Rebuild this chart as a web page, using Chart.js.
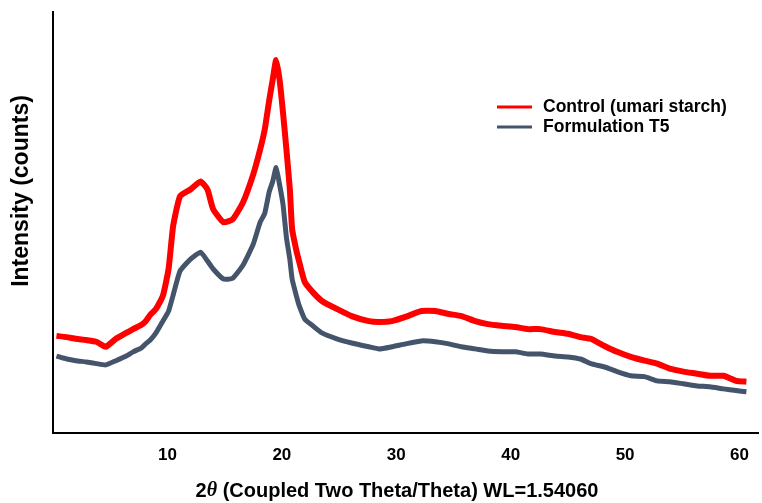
<!DOCTYPE html>
<html>
<head>
<meta charset="utf-8">
<script src="https://cdn.jsdelivr.net/npm/chart.js@4/dist/chart.umd.min.js"></script>
<style>
  body { margin: 0; background: #fff; }
</style>
</head>
<body>
<canvas id="xrd" width="762" height="503"></canvas>
<script>
// 2theta positions (degrees)
const twoTheta = [0.3, 1.2, 2.0, 2.9, 3.8, 4.6, 5.5, 6.4, 7.0, 7.7, 8.1, 8.5, 9.0, 9.6, 10.1, 10.5, 11.1, 12.0, 12.9, 13.5,
  14.0, 14.9, 15.7, 16.6, 17.5, 18.1, 18.5, 18.9, 19.2, 19.5, 19.8, 20.1, 20.4, 20.7, 20.9, 21.3, 21.5, 22.0, 22.7, 23.5,
  24.8, 26.1, 27.6, 28.5, 29.6, 30.8, 32.2, 33.4, 34.6, 35.7, 36.9, 38.0, 39.2, 40.4, 41.5, 42.6, 43.9, 45.0, 46.1, 47.0,
  48.2, 49.3, 50.5, 51.7, 52.8, 53.9, 55.1, 56.3, 57.4, 58.6, 59.7, 60.6];

// intensity, arbitrary units (no scale shown on the figure)
const controlCounts = [23.0, 22.7, 22.3, 22.0, 21.6, 20.4, 22.3, 23.7, 24.6, 25.6, 26.5, 28.0, 29.4, 32.5, 38.9, 49.1, 56.2, 57.8, 59.7, 57.8,
  53.1, 50.0, 50.7, 54.7, 61.4, 67.3, 72.0, 79.1, 83.9, 88.6, 83.9, 76.1, 67.3, 57.8, 48.3, 42.9, 40.8, 35.8, 33.4, 31.3,
  29.4, 27.7, 26.5, 26.3, 26.5, 27.5, 28.9, 28.9, 28.2, 27.7, 26.5, 25.8, 25.4, 25.1, 24.6, 24.6, 23.9, 23.5, 22.7, 22.3,
  20.6, 19.2, 18.0, 17.1, 16.4, 15.2, 14.5, 14.0, 13.5, 13.5, 12.3, 12.1];

const t5Counts = [18.2, 17.5, 17.1, 16.8, 16.4, 16.1, 17.1, 18.2, 19.2, 20.1, 21.1, 22.0, 23.7, 26.5, 28.9, 32.7, 38.4, 41.2, 42.9, 40.8,
  38.9, 36.5, 36.7, 39.8, 44.8, 50.0, 52.1, 57.3, 59.7, 63.0, 59.0, 54.3, 46.4, 41.2, 36.5, 32.2, 30.3, 27.0, 25.4, 23.7,
  22.3, 21.3, 20.4, 19.9, 20.4, 21.1, 21.8, 21.6, 21.1, 20.4, 19.9, 19.4, 19.2, 19.2, 18.7, 18.7, 18.2, 18.0, 17.5, 16.4,
  15.6, 14.5, 13.5, 13.3, 12.3, 12.1, 11.6, 11.1, 10.9, 10.4, 10.0, 9.7];

const xTicks = [10, 20, 30, 40, 50, 60];
const seriesNames = ["Control (umari starch)", "Formulation T5"];
const seriesColors = ["#ff0000", "#44546a"];

const FONT = "'Liberation Sans', Arial, sans-serif";

// titles and legend are painted by hand so they sit where the figure has them
const decorations = {
  id: "decorations",
  afterDraw(chart) {
    const ctx = chart.ctx;
    ctx.save();
    ctx.fillStyle = "#000";

    // y title
    ctx.save();
    ctx.translate(22, 191);
    ctx.rotate(-Math.PI / 2);
    ctx.font = "bold 23px " + FONT;
    ctx.textAlign = "center";
    ctx.textBaseline = "middle";
    ctx.fillText("Intensity (counts)", 0, 0);
    ctx.restore();

    // x title, theta in italics
    const parts = [
      { t: "2", f: "bold 20px " + FONT },
      { t: "\u03b8", f: "italic bold 20px 'Liberation Serif', serif" },
      { t: " (Coupled Two Theta/Theta) WL=1.54060", f: "bold 20px " + FONT },
    ];
    let total = 0;
    parts.forEach((p) => {
      ctx.font = p.f;
      p.w = ctx.measureText(p.t).width;
      total += p.w;
    });
    let x = 397 - total / 2;
    ctx.textBaseline = "middle";
    ctx.textAlign = "left";
    parts.forEach((p) => {
      ctx.font = p.f;
      ctx.fillText(p.t, x, 491);
      x += p.w;
    });

    // legend
    ctx.font = "bold 17.5px " + FONT;
    const rows = [107, 127];
    seriesNames.forEach((name, i) => {
      ctx.strokeStyle = seriesColors[i];
      ctx.lineWidth = 3;
      ctx.beginPath();
      ctx.moveTo(497, rows[i]);
      ctx.lineTo(532, rows[i]);
      ctx.stroke();
      ctx.fillStyle = "#000";
      ctx.fillText(name, 543, rows[i]);
    });
    ctx.restore();
  },
};

new Chart(document.getElementById("xrd"), {
  type: "line",
  data: {
    datasets: [
      {
        label: seriesNames[0],
        data: twoTheta.map((x, i) => ({ x: x, y: controlCounts[i] })),
        borderColor: seriesColors[0],
        borderWidth: 6,
        pointRadius: 0,
        tension: 0.15,
      },
      {
        label: seriesNames[1],
        data: twoTheta.map((x, i) => ({ x: x, y: t5Counts[i] })),
        borderColor: seriesColors[1],
        borderWidth: 5,
        pointRadius: 0,
        tension: 0.15,
      },
    ],
  },
  options: {
    responsive: false,
    animation: false,
    layout: { padding: { left: 53, top: 12, right: 0, bottom: 24 } },
    plugins: { legend: { display: false }, tooltip: { enabled: false } },
    scales: {
      x: {
        type: "linear",
        min: 0,
        max: 61.7,
        afterBuildTicks: (axis) => {
          axis.ticks = xTicks.map((v) => ({ value: v }));
        },
        grid: { display: true, drawOnChartArea: false, drawTicks: false },
        border: { display: true, color: "#000", width: 2 },
        ticks: {
          padding: 13,
          maxRotation: 0,
          color: "#000",
          font: { family: FONT, size: 17, weight: "bold" },
        },
      },
      y: {
        min: 0,
        max: 100,
        grid: { display: true, drawOnChartArea: false, drawTicks: false },
        border: { display: true, color: "#000", width: 2 },
        ticks: { display: false },
      },
    },
  },
  plugins: [decorations],
});
</script>
</body>
</html>
